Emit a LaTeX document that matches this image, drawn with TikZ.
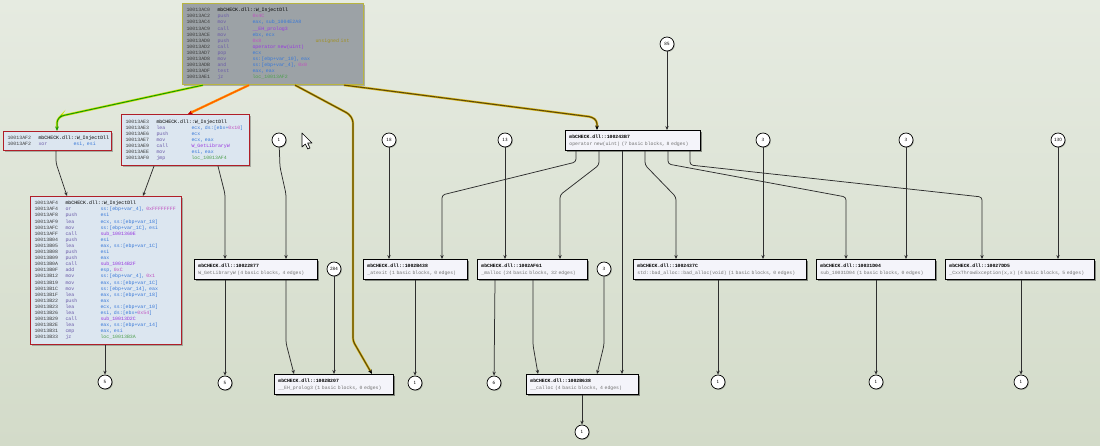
\documentclass[tikz,border=0pt]{standalone}
\usepackage{fontspec}
\setmainfont{Liberation Sans}
\setmonofont{Liberation Mono}
\usetikzlibrary{arrows.meta,shadows,calc}
\definecolor{bgtop}{HTML}{E6EBE1}
\definecolor{bgbot}{HTML}{D3DBC9}
\definecolor{adr}{HTML}{3C3C3C}
\definecolor{mnc}{HTML}{6A5AA8}
\definecolor{opc}{HTML}{3878D8}
\definecolor{numc}{HTML}{C050C0}
\definecolor{fnc}{HTML}{9838E0}
\definecolor{locc}{HTML}{50A050}
\definecolor{cmtc}{HTML}{A09020}
\definecolor{redb}{HTML}{B01E28}
\definecolor{codebg}{HTML}{DCE6F0}
\definecolor{graybg}{HTML}{9CA2A6}
\definecolor{grayb}{HTML}{B8B440}
\definecolor{nodebg}{HTML}{F4F4FA}
\definecolor{ngray}{HTML}{707070}
\definecolor{edgec}{HTML}{2E2E2E}
\definecolor{olivec}{HTML}{5E4A08}
\definecolor{goldc}{HTML}{DDBB1C}
\newcommand{\codefont}{\fontsize{4.9}{6.1}\selectfont\ttfamily}
\newcommand{\nodefont}{\fontsize{4.8}{7}\selectfont\ttfamily}
\newcommand{\asmln}[3]{\makebox[31pt][l]{\color{adr}#1}\makebox[35pt][l]{\color{mnc}#2}{\color{opc}#3}}
\newcommand{\asmhd}[2]{\makebox[31pt][l]{\color{adr}#1}{\color{black}#2}}
\newcommand{\nmc}[1]{\textcolor{numc}{#1}}
\newcommand{\fnc}[1]{\textcolor{fnc}{#1}}
\newcommand{\lcc}[1]{\textcolor{locc}{#1}}
\newcommand{\fnbox}[2]{{\bfseries #1}\\\textcolor{ngray}{#2}}
\begin{document}
\begin{tikzpicture}[x=1pt,y=-1pt,
  codebox/.style={draw=redb, line width=1.1pt, fill=codebg, inner xsep=4pt, inner ysep=2pt,
    align=left, font=\codefont, anchor=north west,
    drop shadow={shadow xshift=1.2pt, shadow yshift=-1.2pt, fill=black, opacity=0.25}},
  graybox/.style={draw=grayb, line width=1.1pt, fill=graybg, inner xsep=4pt, inner ysep=2pt,
    align=left, font=\codefont, anchor=north west,
    drop shadow={shadow xshift=1.2pt, shadow yshift=-1.2pt, fill=black, opacity=0.25}},
  fnode/.style={draw=black, line width=0.8pt, fill=nodebg, inner xsep=4pt, inner ysep=1pt,
    align=left, font=\nodefont, anchor=north west, minimum height=20pt,
    drop shadow={shadow xshift=1.5pt, shadow yshift=-1.5pt, fill=black, opacity=0.4}},
  circ/.style={circle, draw=black, line width=0.7pt, fill=white, minimum size=14pt, inner sep=0pt,
    font=\fontsize{4.8}{5}\selectfont\sffamily,
    drop shadow={shadow xshift=0.8pt, shadow yshift=-0.8pt, fill=black, opacity=0.3}},
  edge/.style={draw=edgec, line width=0.75pt, rounded corners=3pt, -{Stealth[length=4pt,width=3.4pt]}},
  calledge/.style={draw=olivec, line width=1.1pt, rounded corners=3pt,
    preaction={draw=goldc, line width=2.3pt, -, shorten >=3pt},
    -{Stealth[length=4.5pt,width=3.8pt,color=black]}},
  trueedge/.style={draw=green!55!black!90!yellow, line width=1pt, rounded corners=3pt,
    preaction={draw=yellow!80!green, line width=2.3pt, -, shorten >=3pt},
    -{Stealth[length=4.5pt,width=3.8pt]}},
  falseedge/.style={draw=orange!70!red, line width=1pt, rounded corners=3pt,
    preaction={draw=orange!80!yellow, line width=2.3pt, -, shorten >=3pt},
    -{Stealth[length=4.5pt,width=3.8pt,color=red!75!black]}}
]
\fill[top color=bgtop, bottom color=bgbot] (0,0) rectangle (1100,445);
\useasboundingbox (0,0) rectangle (1100,445);

% ---------- code blocks ----------
\node[graybox, text width=173pt, minimum height=81pt] (gray) at (182,3) {%
\asmhd{10013AC0}{mbCHECK.dll::W\_InjectDll}\\
\asmln{10013AC2}{push}{\nmc{0x4C}}\\
\asmln{10013AC4}{mov}{eax, sub\_1004E2A8}\\
\asmln{10013AC9}{call}{\fnc{\_\_EH\_prolog3}}\\
\asmln{10013ACE}{mov}{ebx, ecx}\\
\asmln{10013AD0}{push}{\makebox[63pt][l]{\nmc{0x8}}\textcolor{cmtc}{unsigned int}}\\
\asmln{10013AD2}{call}{\fnc{operator new(uint)}}\\
\asmln{10013AD7}{pop}{ecx}\\
\asmln{10013AD8}{mov}{ss:[ebp+var\_10], eax}\\
\asmln{10013ADB}{and}{ss:[ebp+var\_4], \nmc{0x0}}\\
\asmln{10013ADF}{test}{eax, eax}\\
\asmln{10013AE1}{jz}{\lcc{loc\_10013AF2}}};

\node[codebox, text width=100pt, minimum height=19pt] (sbox) at (3,131) {%
\asmhd{10013AF2}{mbCHECK.dll::W\_InjectDll}\\
\asmln{10013AF2}{xor}{esi, esi}};

\node[codebox, text width=120pt, minimum height=51pt] (rbox) at (121,114) {%
\asmhd{10013AE3}{mbCHECK.dll::W\_InjectDll}\\
\asmln{10013AE3}{lea}{ecx, ds:[ebx+\nmc{0x10}]}\\
\asmln{10013AE6}{push}{ecx}\\
\asmln{10013AE7}{mov}{ecx, eax}\\
\asmln{10013AE9}{call}{\fnc{W\_GetLibraryW}}\\
\asmln{10013AEE}{mov}{esi, eax}\\
\asmln{10013AF0}{jmp}{\lcc{loc\_10013AF4}}};

\node[codebox, text width=143pt, minimum height=148pt] (big) at (30,196) {%
\asmhd{10013AF4}{mbCHECK.dll::W\_InjectDll}\\
\asmln{10013AF4}{or}{ss:[ebp+var\_4], \nmc{0xFFFFFFFF}}\\
\asmln{10013AF8}{push}{esi}\\
\asmln{10013AF9}{lea}{ecx, ss:[ebp+var\_18]}\\
\asmln{10013AFC}{mov}{ss:[ebp+var\_1C], esi}\\
\asmln{10013AFF}{call}{\fnc{sub\_1001360E}}\\
\asmln{10013B04}{push}{esi}\\
\asmln{10013B05}{lea}{eax, ss:[ebp+var\_1C]}\\
\asmln{10013B08}{push}{esi}\\
\asmln{10013B09}{push}{eax}\\
\asmln{10013B0A}{call}{\fnc{sub\_10014B2F}}\\
\asmln{10013B0F}{add}{esp, \nmc{0xC}}\\
\asmln{10013B12}{mov}{ss:[ebp+var\_4], \nmc{0x1}}\\
\asmln{10013B19}{mov}{eax, ss:[ebp+var\_1C]}\\
\asmln{10013B1C}{mov}{ss:[ebp+var\_14], eax}\\
\asmln{10013B1F}{lea}{eax, ss:[ebp+var\_18]}\\
\asmln{10013B22}{push}{eax}\\
\asmln{10013B23}{lea}{ecx, ss:[ebp+var\_10]}\\
\asmln{10013B26}{lea}{esi, ds:[ebx+\nmc{0x54}]}\\
\asmln{10013B29}{call}{\fnc{sub\_10013D2C}}\\
\asmln{10013B2E}{lea}{eax, ss:[ebp+var\_14]}\\
\asmln{10013B31}{cmp}{eax, esi}\\
\asmln{10013B33}{jz}{\lcc{loc\_10013B3A}}};

% ---------- function nodes ----------
\node[fnode, text width=127pt] (opnew) at (565,130) {\fnbox{mbCHECK.dll::100243B7}{operator new(uint) (7 basic blocks, 8 edges)}};
\node[fnode, text width=115pt] (getlib) at (194,259) {\fnbox{mbCHECK.dll::10022877}{W\_GetLibraryW (4 basic blocks, 4 edges)}};
\node[fnode, text width=96pt] (atexit) at (363,259) {\fnbox{mbCHECK.dll::1002B438}{\_atexit (1 basic blocks, 0 edges)}};
\node[fnode, text width=102pt] (malloc) at (477,259) {\fnbox{mbCHECK.dll::1002AF61}{\_malloc (24 basic blocks, 32 edges)}};
\node[fnode, text width=165pt] (badalloc) at (633,259) {\fnbox{mbCHECK.dll::1002437C}{std::bad\_alloc::bad\_alloc(void) (1 basic blocks, 0 edges)}};
\node[fnode, text width=111pt] (sub31) at (816,259) {\fnbox{mbCHECK.dll::10031D04}{sub\_10031D04 (1 basic blocks, 0 edges)}};
\node[fnode, text width=141pt] (cxx) at (945,259) {\fnbox{mbCHECK.dll::10027DD5}{\_CxxThrowException(x,x) (4 basic blocks, 5 edges)}};
\node[fnode, text width=111pt] (ehp) at (274,374) {\fnbox{mbCHECK.dll::1002B207}{\_\_EH\_prolog3 (1 basic blocks, 0 edges)}};
\node[fnode, text width=104pt] (calloc) at (526,374) {\fnbox{mbCHECK.dll::1002B638}{\_\_calloc (4 basic blocks, 4 edges)}};

% ---------- circles ----------
\node[circ] (c85) at (667,44) {85};
\node[circ] (c1a) at (279,140) {1};
\node[circ] (c18) at (389,140) {18};
\node[circ] (c13) at (505,140) {13};
\node[circ] (c3a) at (763,140) {3};
\node[circ] (c3b) at (906,140) {3};
\node[circ] (c130) at (1058,140) {130};
\node[circ] (c284) at (334,269) {284};
\node[circ] (c3c) at (604,269) {3};
\node[circ] (c5a) at (105,382) {5};
\node[circ] (c5b) at (225,383) {5};
\node[circ] (c1b) at (415,383) {1};
\node[circ] (c6) at (494,383) {6};
\node[circ] (c1c) at (718,382) {1};
\node[circ] (c1d) at (876,382) {1};
\node[circ] (c1e) at (1021,382) {1};
\node[circ] (c1f) at (582,432) {1};

% ---------- edges from the grey block ----------
\draw[trueedge] (203,0 |- gray.south) -- (61,116) -- (57,120) -- (57,0 |- sbox.north);
\draw[falseedge] (249,0 |- gray.south) -- (188,0 |- rbox.north);
\draw[calledge] (295,0 |- gray.south) -- (349,114) -- (353,120) -- (353,341) -- (372,0 |- ehp.north);
\draw[calledge] (344,0 |- gray.south) -- (592,117) -- (597,121) -- (597,0 |- opnew.north);

% ---------- code block edges ----------
\draw[edge] (56,0 |- sbox.south) -- (56,163) -- (67,0 |- big.north);
\draw[edge] (154,0 |- rbox.south) -- (143,0 |- big.north);
\draw[edge] (218,0 |- rbox.south) -- (225,194) -- (225,0 |- getlib.north);
\draw[edge] (105,0 |- big.south) -- (c5a);

% ---------- top circles ----------
\draw[edge] (c85) -- (667,0 |- opnew.north);
\draw[edge] (c1a) -- (280,167) -- (286,194) -- (286,0 |- getlib.north);
\draw[edge] (c18) -- (389,0 |- atexit.north);
\draw[edge] (c13) -- (505,0 |- malloc.north);
\draw[edge] (c3a) -- (763,0 |- badalloc.north);
\draw[edge] (c3b) -- (906,0 |- sub31.north);
\draw[edge] (c130) -- (1058,0 |- cxx.north);

% ---------- operator new fan-out ----------
\draw[edge] (576,0 |- opnew.south) -- (576,162) -- (442,195) -- (442,0 |- atexit.north);
\draw[edge] (599,0 |- opnew.south) -- (599,165) -- (560,195) -- (560,0 |- malloc.north);
\draw[edge] (622,0 |- opnew.south) -- (622,0 |- calloc.north);
\draw[edge] (645,0 |- opnew.south) -- (645,165) -- (676,197) -- (676,0 |- badalloc.north);
\draw[edge] (668,0 |- opnew.south) -- (668,164) -- (846,197) -- (846,0 |- sub31.north);
\draw[edge] (690,0 |- opnew.south) -- (690,165) -- (982,197) -- (982,0 |- cxx.north);

% ---------- second row ----------
\draw[edge] (225,0 |- getlib.south) -- (c5b);
\draw[edge] (286,0 |- getlib.south) -- (286,343) -- (294,0 |- ehp.north);
\draw[edge] (c284) -- (334,0 |- ehp.north);
\draw[edge] (415,0 |- atexit.south) -- (c1b);
\draw[edge] (495,0 |- malloc.south) -- (c6);
\draw[edge] (533,0 |- malloc.south) -- (533,345) -- (538,0 |- calloc.north);
\draw[edge] (c3c) -- (604,345) -- (597,0 |- calloc.north);
\draw[edge] (718,0 |- badalloc.south) -- (c1c);
\draw[edge] (876,0 |- sub31.south) -- (c1d);
\draw[edge] (1021,0 |- cxx.south) -- (c1e);
\draw[edge] (582,0 |- calloc.south) -- (c1f);

% ---------- mouse pointer ----------
\filldraw[fill=white, draw=black, line width=0.6pt, line join=round]
  (302,133) -- (302,147) -- (305.3,144) -- (307.8,149) -- (310,148) -- (307.6,143) -- (312,143) -- cycle;
\end{tikzpicture}
\end{document}
